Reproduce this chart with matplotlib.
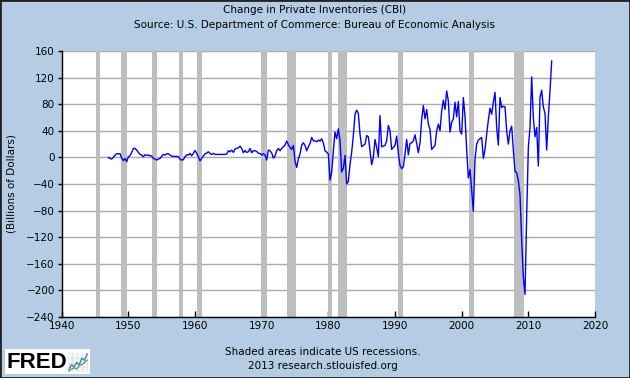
import matplotlib
matplotlib.use("Agg")
import matplotlib.pyplot as plt
from matplotlib.patches import Rectangle
import numpy as np

# ---------------- data ----------------
title = "Change in Private Inventories (CBI)"
subtitle = "Source: U.S. Department of Commerce: Bureau of Economic Analysis"
y_label = "(Billions of Dollars)"
footer1 = "Shaded areas indicate US recessions."
footer2 = "2013 research.stlouisfed.org"

first_year = 1947  # quarterly series starting 1947 Q1
cbi_values = [
    0, -1.5, -2.5, 0,          # 1947
    3.5, 5.5, 5.5, 5.5,        # 1948
    -1, -5, -1.5, -6.5,        # 1949
    1, 2.5, 7.5, 13.5,         # 1950
    13.5, 11, 7.5, 4.5,        # 1951
    3.5, 1, 4, 3,              # 1952
    3.5, 2.5, 2, -1.5,         # 1953
    -2.5, -4, -2.5, -1.5,      # 1954
    1.5, 4.5, 3.5, 5.5,        # 1955
    5.5, 3.5, 2, 1.5,          # 1956
    1.5, 1.5, 1, -2.5,         # 1957
    -4, -3.5, 1, 4,            # 1958
    3.5, 6, 2.5, 6,            # 1959
    10.5, 6, 1, -5,            # 1960
    -1.5, 2, 5.5, 6.5,         # 1961
    8.5, 6, 4.5, 6,            # 1962
    4.5, 4.5, 4.5, 4.5,        # 1963
    4.5, 4.5, 4.5, 5,          # 1964
    10, 8.5, 11, 7.5,          # 1965
    12.5, 13.5, 14.5, 17,      # 1966
    13.5, 7, 10.5, 7.5,        # 1967
    8.5, 13.5, 7, 10,          # 1968
    10, 9, 6, 6,               # 1969
    3.5, 5.5, 3.5, -4,         # 1970
    11, 10, 7, -1,             # 1971
    2, 10, 13.5, 10,           # 1972
    13.5, 16, 18.5, 24.5,      # 1973
    19.5, 15, 12, 18,          # 1974
    -6, -15, -2, 5,            # 1975
    18.5, 22, 18, 10,          # 1976
    16, 21, 30, 25,            # 1977
    25, 23.5, 26, 24.5,        # 1978
    28, 22, 10, 8,             # 1979
    5, -34, -22, 10,           # 1980
    38, 28, 43, 25,            # 1981
    -22, -16, 3, -40,          # 1982
    -36, -10, 8, 33,           # 1983
    65, 71, 66, 35,            # 1984
    16, 18, 20, 33,            # 1985
    31, 10, -11, 0,            # 1986
    27, 15, 1, 63,             # 1987
    16, 17, 18, 25,            # 1988
    48, 40, 12, 15,            # 1989
    18, 32, 6, -12,            # 1990
    -17, -14, 5, 27,           # 1991
    4, 21, 22, 25,             # 1992
    34, 21, 7, 22,             # 1993
    57, 78, 58, 72,            # 1994
    50, 42, 12, 15,            # 1995
    18, 40, 50, 40,            # 1996
    70, 86, 72, 100,           # 1997
    85, 38, 53, 58,            # 1998
    83, 61, 84, 40,            # 1999
    35, 90, 62, 12,            # 2000
    -31, -18, -50, -81,        # 2001
    -2, 20, 26, 28,            # 2002
    30, -1.5, 12, 35,          # 2003
    56, 74, 65, 83,            # 2004
    98, 45, 18.5, 90,          # 2005
    75, 77, 76, 40,            # 2006
    20, 40, 47, 11,            # 2007
    -21, -23, -35, -56,        # 2008
    -124, -180, -206, -88,     # 2009
    15, 45, 121, 60,           # 2010
    31, 45, -13, 90,           # 2011
    101, 76, 66, 11,           # 2012
    61, 100, 145,              # 2013
]

recession_start = [1945.08, 1948.83, 1953.50, 1957.58, 1960.25, 1969.92,
                   1973.83, 1980.00, 1981.50, 1990.50, 2001.17, 2007.92]
recession_end = [1945.75, 1949.75, 1954.33, 1958.25, 1961.08, 1970.83,
                 1975.17, 1980.50, 1982.83, 1991.17, 2001.83, 2009.42]

x_ticks = [1940, 1950, 1960, 1970, 1980, 1990, 2000, 2010, 2020]
y_ticks = [-240, -200, -160, -120, -80, -40, 0, 40, 80, 120, 160]

logo_icon_a = [1, 3, 2, 4, 3, 6, 5, 8]
logo_icon_b = [0, 1, 1.5, 1, 2.5, 3, 4, 5]

# ---------------- figure ----------------
W, H = 630, 378
bg = "#B4CDE4"
fig = plt.figure(figsize=(W / 100, H / 100), dpi=100, facecolor=bg)

L, R, T, B = 61.7, 595, 51, 317
ax = fig.add_axes([L / W, 1 - B / H, (R - L) / W, (B - T) / H])
ax.set_facecolor("white")

x = first_year + np.arange(len(cbi_values)) / 4.0
for s, e in zip(recession_start, recession_end):
    ax.axvspan(s, e, color="#BEBEBE", lw=0, zorder=1)
ax.plot(x, cbi_values, color="#0000FF", lw=1.0, zorder=3)

ax.set_xlim(x_ticks[0], x_ticks[-1])
ax.set_ylim(y_ticks[0], y_ticks[-1])
ax.set_xticks(x_ticks)
ax.set_yticks(y_ticks)
ax.yaxis.grid(True, color="#AAAAAA", lw=1.0, zorder=0)
ax.set_axisbelow(True)
for sp in ["top", "right"]:
    ax.spines[sp].set_visible(False)
for sp in ["left", "bottom"]:
    ax.spines[sp].set_color("black")
    ax.spines[sp].set_linewidth(1.0)
ax.tick_params(axis="x", direction="in", length=4, width=1, labelsize=7.5, pad=3)
ax.tick_params(axis="y", direction="out", length=3, width=1, labelsize=7.5, pad=2)

fs = 7.5
fig.text(0.5, 1 - 10 / H, title, ha="center", va="center", fontsize=fs)
fig.text(0.5, 1 - 25 / H, subtitle, ha="center", va="center", fontsize=fs)
fig.text(12 / W, 1 - 184 / H, y_label, rotation=90, ha="center", va="center", fontsize=fs)
fig.text(323 / W, 1 - 352 / H, footer1, ha="center", va="center", fontsize=fs)
fig.text(323 / W, 1 - 366 / H, footer2, ha="center", va="center", fontsize=fs)

# FRED logo
fig.add_artist(Rectangle((5 / W, 1 - 374 / H), 85 / W, 25 / H, transform=fig.transFigure,
                         facecolor="white", edgecolor="none", zorder=0))
fig.text(7 / W, 1 - 362 / H, "FRED", ha="left", va="center", fontsize=16,
         fontweight="bold", family="Liberation Sans", color="black")
iax = fig.add_axes([68 / W, 1 - 372 / H, 20 / W, 19 / H])
iax.plot(logo_icon_a, color="#4A7FC0", lw=1.0)
iax.plot(logo_icon_b, color="#5DAA3A", lw=1.0)
iax.set_facecolor("#F2F6FA")
iax.grid(True, color="#D0D8E0", lw=0.4)
iax.set_xticks([1, 3, 5, 7]); iax.set_yticks([2, 4, 6])
iax.tick_params(length=0, labelbottom=False, labelleft=False)
for sp in iax.spines.values():
    sp.set_visible(False)

fig.add_artist(Rectangle((0, 0), 1, 1, transform=fig.transFigure, fill=False,
                         edgecolor="#222222", lw=2))

fig.savefig("out.png", dpi=100, facecolor=bg)
